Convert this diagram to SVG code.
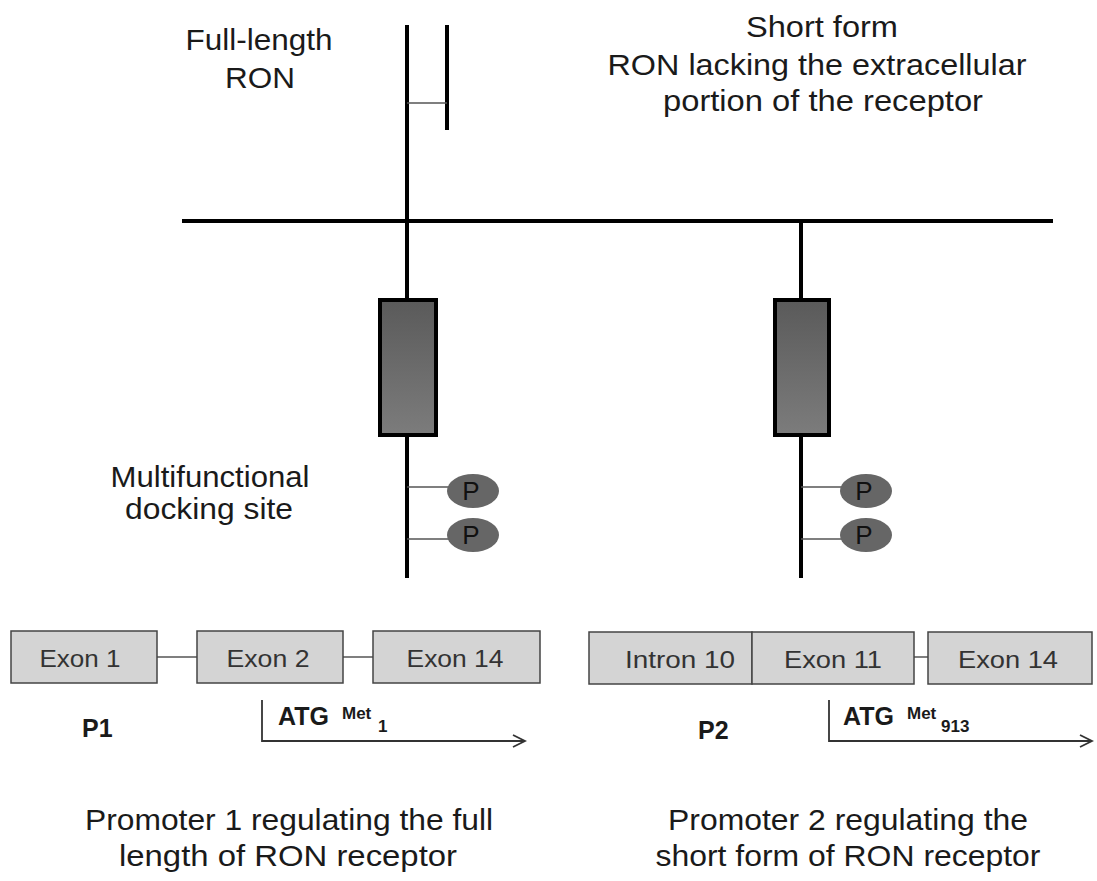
<svg xmlns="http://www.w3.org/2000/svg" width="1097" height="881" viewBox="0 0 1097 881">
  <style>
    .lbl { font-family: "Liberation Sans", Arial, sans-serif; font-size: 29px; fill: #1a1a1a; text-anchor: middle; }
    .ex { font-family: "Liberation Sans", Arial, sans-serif; font-size: 24px; fill: #333; text-anchor: middle; }
    .bold { font-family: "Liberation Sans", Arial, sans-serif; font-weight: bold; fill: #1a1a1a; font-size: 25px; }
    .sup { font-family: "Liberation Sans", Arial, sans-serif; font-weight: bold; fill: #1a1a1a; font-size: 17px; }
    .stem { stroke: #000; stroke-width: 4; fill: none; }
    .thin { stroke: #555; stroke-width: 1.5; fill: none; }
    .arrow { stroke: #333; stroke-width: 1.8; fill: none; }
    .exbox { fill: #d4d4d4; stroke: #444; stroke-width: 1.5; }
    .kinase { fill: url(#kgrad); stroke: #000; stroke-width: 4; }
    .pho { fill: #666; }
    .ptxt { font-family: "Liberation Sans", Arial, sans-serif; font-size: 26px; fill: #111; text-anchor: middle; }
  </style>
  <defs>
    <linearGradient id="kgrad" x1="0" y1="0" x2="0" y2="1">
      <stop offset="0" stop-color="#5a5a5a"/>
      <stop offset="1" stop-color="#7c7c7c"/>
    </linearGradient>
    <marker id="open" markerWidth="16" markerHeight="16" refX="14" refY="8" orient="auto" markerUnits="userSpaceOnUse">
      <path d="M2,2 L14,8 L2,14" fill="none" stroke="#333" stroke-width="1.8"/>
    </marker>
  </defs>
  <rect width="1097" height="881" fill="#fff"/>

  <!-- cell membrane -->
  <g id="membrane">
    <line class="stem" x1="182" y1="221" x2="1053" y2="221"/>
  </g>

  <!-- receptor chains, exon links and transcription arrows -->
  <g id="connectors">
    <line class="stem" x1="407" y1="25" x2="407" y2="578"/>
    <line class="stem" x1="447" y1="25" x2="447" y2="130"/>
    <line class="thin" x1="407" y1="103" x2="447" y2="103"/>
    <line class="stem" x1="801" y1="221" x2="801" y2="578"/>
    <line class="thin" x1="407" y1="487" x2="450" y2="487"/>
    <line class="thin" x1="407" y1="539" x2="450" y2="539"/>
    <line class="thin" x1="801" y1="487" x2="845" y2="487"/>
    <line class="thin" x1="801" y1="539" x2="845" y2="539"/>
    <line class="thin" x1="157" y1="657" x2="197" y2="657"/>
    <line class="thin" x1="343" y1="657" x2="373" y2="657"/>
    <line class="thin" x1="914" y1="657" x2="928" y2="657"/>
    <polyline class="arrow" points="262,700 262,741 525,741" marker-end="url(#open)"/>
    <polyline class="arrow" points="829,700 829,741 1092,741" marker-end="url(#open)"/>
  </g>

  <!-- kinase domains -->
  <g id="kinase-full">
    <rect class="kinase" x="380" y="300" width="56" height="135"/>
  </g>
  <g id="kinase-short">
    <rect class="kinase" x="775" y="300" width="54" height="135"/>
  </g>

  <!-- phosphorylated tyrosines -->
  <g id="p-full-1"><ellipse class="pho" cx="473" cy="491" rx="26" ry="17"/><text class="ptxt" x="471" y="500">P</text></g>
  <g id="p-full-2"><ellipse class="pho" cx="473" cy="535" rx="26" ry="17"/><text class="ptxt" x="471" y="544">P</text></g>
  <g id="p-short-1"><ellipse class="pho" cx="866" cy="491" rx="26" ry="17"/><text class="ptxt" x="864" y="500">P</text></g>
  <g id="p-short-2"><ellipse class="pho" cx="866" cy="535" rx="26" ry="17"/><text class="ptxt" x="864" y="544">P</text></g>

  <!-- gene structure, promoter 1 -->
  <g id="exon1"><rect class="exbox" x="11" y="631" width="146" height="52"/><text class="ex" x="80" y="667" textLength="81" lengthAdjust="spacingAndGlyphs">Exon 1</text></g>
  <g id="exon2"><rect class="exbox" x="197" y="631" width="146" height="52"/><text class="ex" x="268" y="667" textLength="83" lengthAdjust="spacingAndGlyphs">Exon 2</text></g>
  <g id="exon14a"><rect class="exbox" x="373" y="631" width="167" height="52"/><text class="ex" x="455" y="667" textLength="97" lengthAdjust="spacingAndGlyphs">Exon 14</text></g>

  <!-- gene structure, promoter 2 -->
  <g id="intron10"><rect class="exbox" x="589" y="632" width="163" height="52"/><text class="ex" x="680" y="668" textLength="110" lengthAdjust="spacingAndGlyphs">Intron  10</text></g>
  <g id="exon11"><rect class="exbox" x="752" y="632" width="162" height="52"/><text class="ex" x="833" y="668" textLength="98" lengthAdjust="spacingAndGlyphs">Exon 11</text></g>
  <g id="exon14b"><rect class="exbox" x="928" y="632" width="164" height="52"/><text class="ex" x="1008" y="668" textLength="100" lengthAdjust="spacingAndGlyphs">Exon 14</text></g>

  <!-- promoters and start codons -->
  <g id="p1"><text class="bold" x="82" y="737">P1</text></g>
  <g id="atg1">
    <text class="bold" x="278" y="725">ATG</text>
    <text class="sup" x="342" y="719">Met</text>
    <text class="sup" x="378" y="732">1</text>
  </g>
  <g id="p2"><text class="bold" x="698" y="739">P2</text></g>
  <g id="atg913">
    <text class="bold" x="843" y="725">ATG</text>
    <text class="sup" x="907" y="719">Met</text>
    <text class="sup" x="941" y="732">913</text>
  </g>

  <!-- labels -->
  <g id="label-full">
    <text class="lbl" x="259" y="50" textLength="147" lengthAdjust="spacingAndGlyphs">Full-length</text>
    <text class="lbl" x="260" y="88" textLength="70" lengthAdjust="spacingAndGlyphs">RON</text>
  </g>
  <g id="label-short">
    <text class="lbl" x="822" y="37" textLength="152" lengthAdjust="spacingAndGlyphs">Short form</text>
    <text class="lbl" x="817" y="75" textLength="419" lengthAdjust="spacingAndGlyphs">RON lacking the extracellular</text>
    <text class="lbl" x="823" y="111" textLength="320" lengthAdjust="spacingAndGlyphs">portion of the receptor</text>
  </g>
  <g id="label-docking">
    <text class="lbl" x="210" y="487" textLength="199" lengthAdjust="spacingAndGlyphs">Multifunctional</text>
    <text class="lbl" x="209" y="519" textLength="168" lengthAdjust="spacingAndGlyphs">docking site</text>
  </g>
  <g id="label-promoter1">
    <text class="lbl" x="289" y="830" textLength="408" lengthAdjust="spacingAndGlyphs">Promoter 1 regulating the full</text>
    <text class="lbl" x="288" y="866" textLength="338" lengthAdjust="spacingAndGlyphs">length of RON receptor</text>
  </g>
  <g id="label-promoter2">
    <text class="lbl" x="848" y="830" textLength="360" lengthAdjust="spacingAndGlyphs">Promoter 2 regulating the</text>
    <text class="lbl" x="848" y="866" textLength="385" lengthAdjust="spacingAndGlyphs">short form of RON receptor</text>
  </g>
</svg>
